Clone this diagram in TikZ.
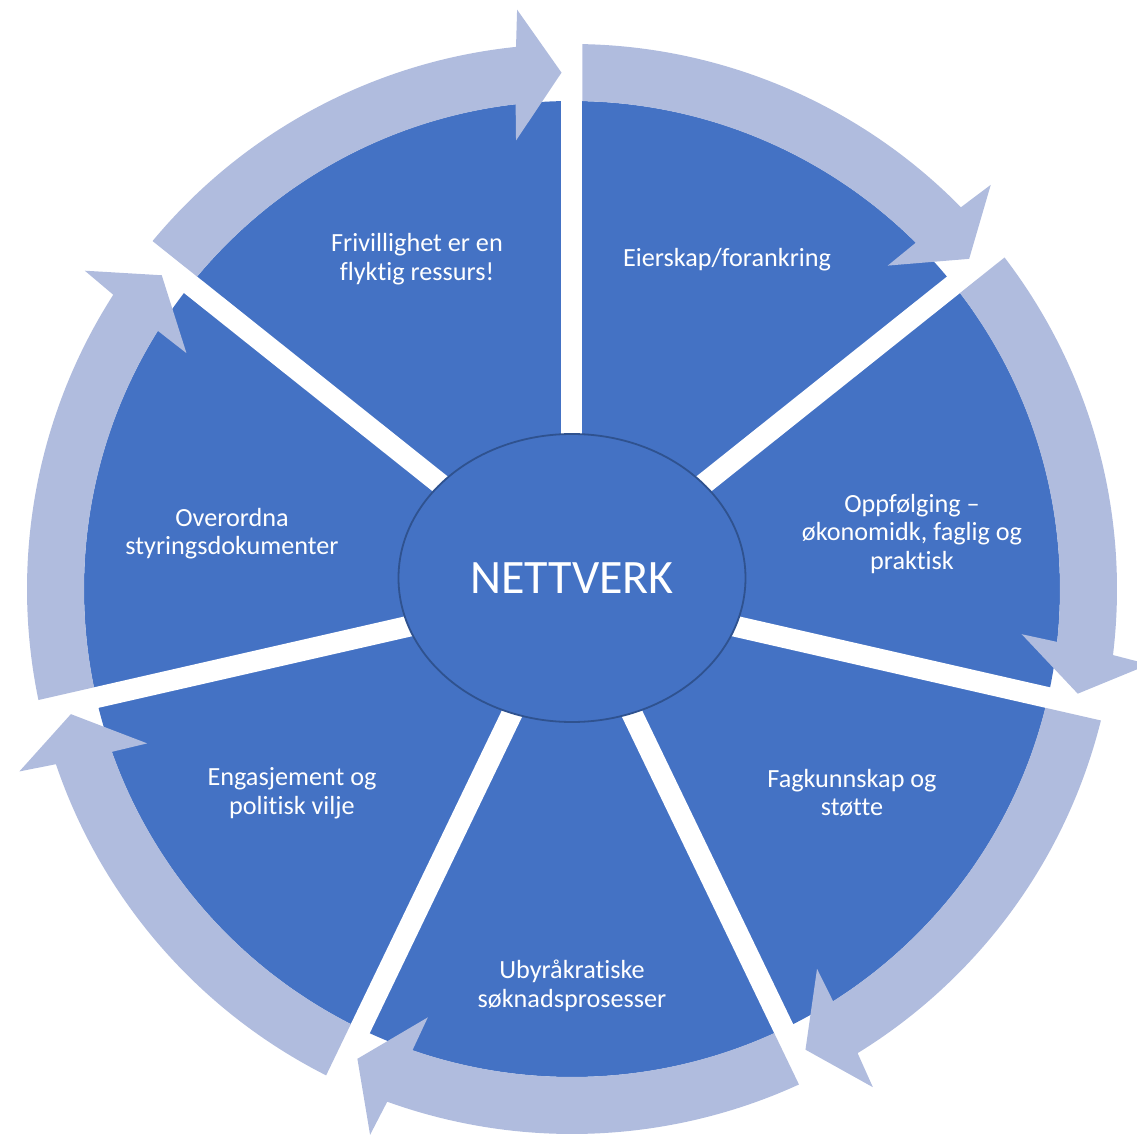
\documentclass[tikz,border=0pt]{standalone}
\usepackage{fontspec}
\setmainfont{Carlito}[Ligatures={NoCommon}]
\usetikzlibrary{shapes.geometric}
\definecolor{slice}{RGB}{68,114,196}
\definecolor{ring}{RGB}{176,188,222}
\definecolor{rim}{RGB}{47,82,143}
\begin{document}
\begin{tikzpicture}[x=1pt,y=1pt,
  lbl/.style={text=white, font=\fontsize{26.2}{28.6}\selectfont, align=center, inner sep=0pt},
  hubstyle/.style={ellipse, draw=rim, line width=1.8pt, fill=slice, text=white,
    minimum width=347pt, minimum height=288pt, inner sep=0pt, font=\fontsize{48}{52}\selectfont},
  gapline/.style={white, line width=21pt},
  arrowfill/.style={fill=ring}]
\useasboundingbox (-572,-554) rectangle (565,589);
% pie
\fill[slice] (0,0) circle (488pt);
\foreach \k in {0,...,6} \draw[gapline] (0,0) -- ({90-\k*360/7}:600pt);
% ring arrows
\foreach \k in {0,...,6}{
  \pgfmathsetmacro\s{90-\k*360/7}
  \pgfmathsetmacro\e{\s-360/7}
  \pgfmathsetmacro\t{\e+asin(10.5/516.5)}
  \pgfmathsetmacro\b{\t+5.1}
  \pgfmathsetmacro\so{\s-asin(10.5/545)}
  \pgfmathsetmacro\si{\s-asin(10.5/488)}
  \fill[arrowfill] (\so:545pt) arc[start angle=\so, end angle={\b-0.37}, radius=545pt]
    -- ({\b-0.85}:582pt) -- (\t:516.5pt) -- ({\b+0.85}:452pt) -- ({\b+0.37}:488pt)
    arc[start angle={\b+0.37}, end angle=\si, radius=488pt] -- cycle;
}
% hub
\node[hubstyle] (hub) at (0,11) {NETTVERK};
% labels
\node[lbl] (l0) at (155,329) {Eierskap/forankring};
\node[lbl] (l1) at (340,55) {Oppfølging –\\økonomidk, faglig og\\praktisk};
\node[lbl] (l2) at (280,-204) {Fagkunnskap og\\støtte};
\node[lbl] (l3) at (0,-397) {Ubyråkratiske\\søknadsprosesser};
\node[lbl] (l4) at (-280,-204) {Engasjement og\\politisk vilje};
\node[lbl] (l5) at (-340,55.5) {Overordna\\styringsdokumenter};
\node[lbl] (l6) at (-155,330) {Frivillighet er en\\flyktig ressurs!};
\end{tikzpicture}
\end{document}
